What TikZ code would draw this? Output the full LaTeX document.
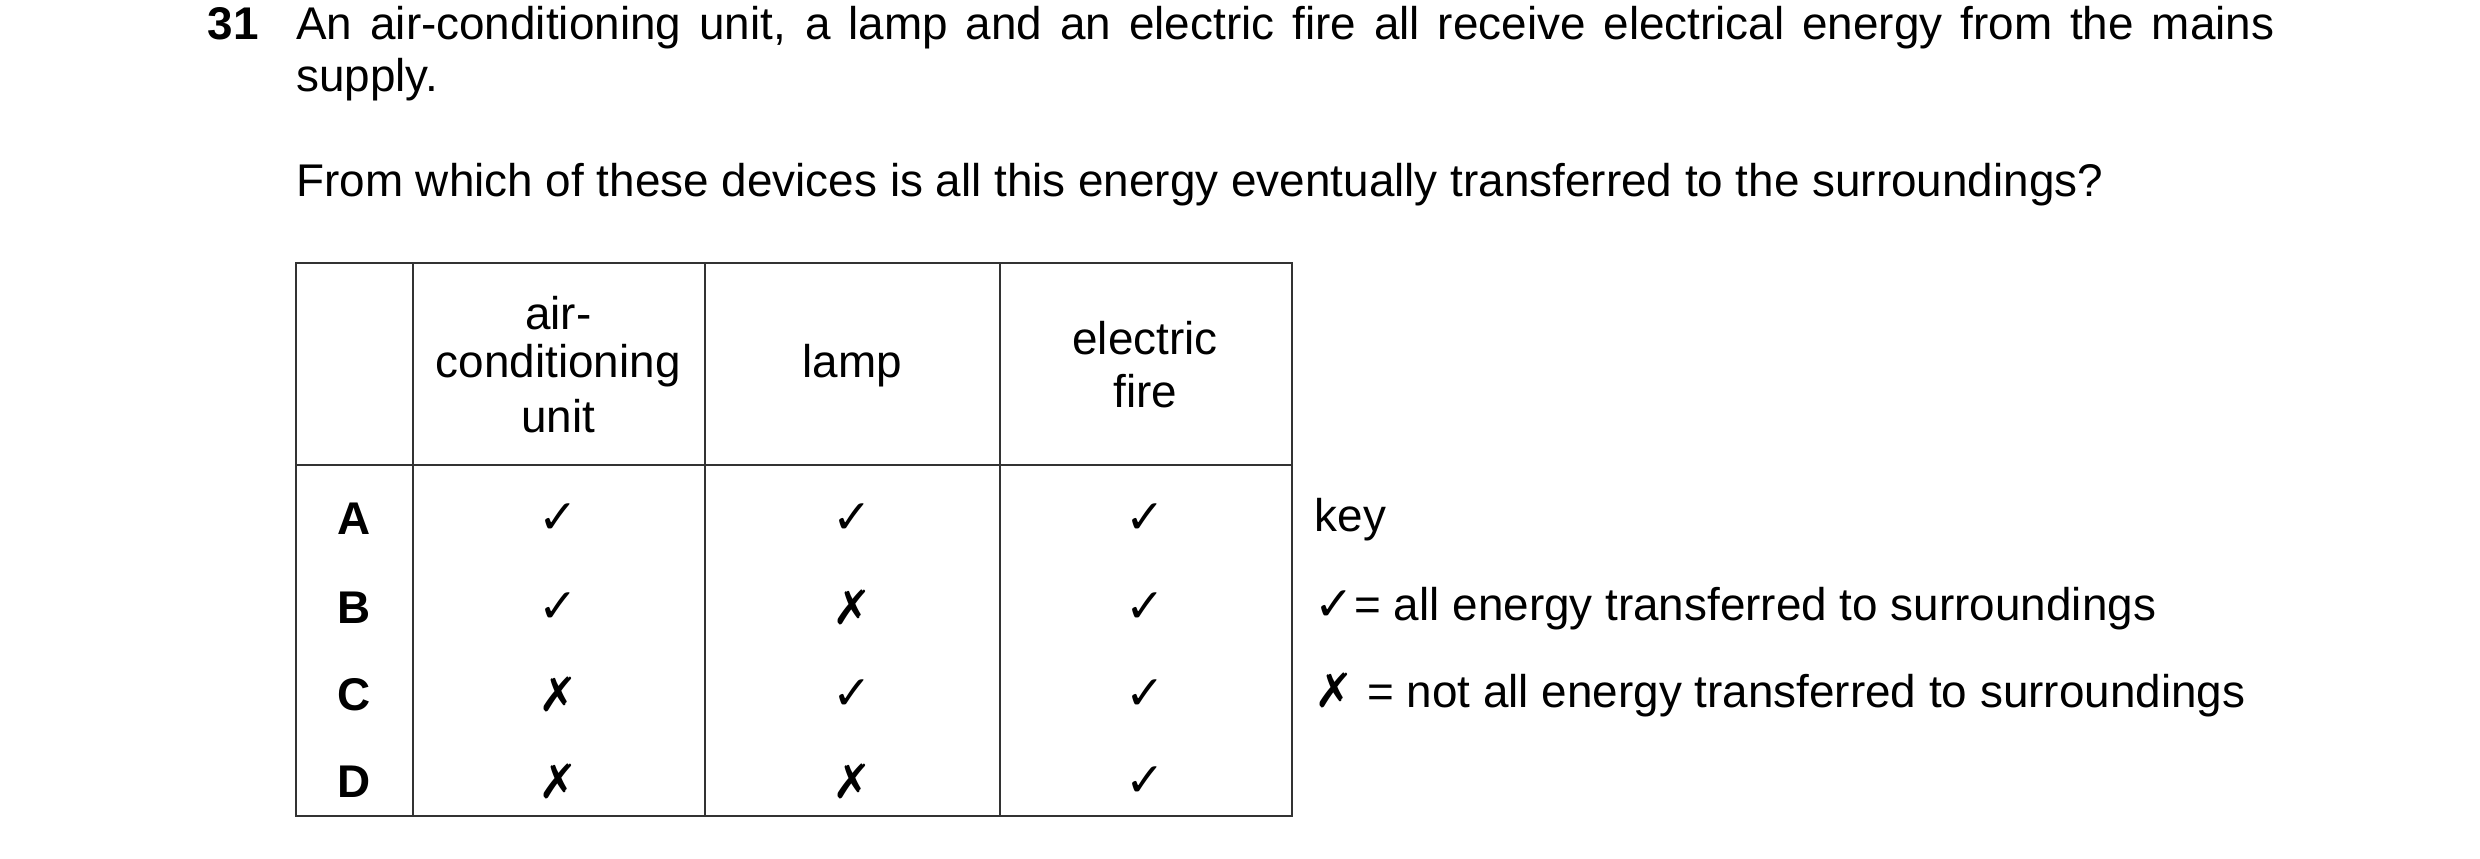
\documentclass[tikz,border=0pt]{standalone}
\usepackage{fontspec}
\setmainfont{Liberation Sans}
\newfontfamily\sym{DejaVu Sans}
\begin{document}
\begin{tikzpicture}[x=0.02cm,y=-0.02cm,
  txt/.style={inner sep=0pt,font=\fontsize{16.5}{20}\selectfont},
  lt/.style={txt,anchor=base west},
  mk/.style={inner sep=0pt,font=\sym\bfseries\fontsize{17}{20}\selectfont},
  rl/.style={txt,font=\fontsize{16.5}{20}\selectfont\bfseries}]
\useasboundingbox (0,0) rectangle (1568,542.5);
\node[lt,font=\fontsize{16.5}{20}\selectfont\bfseries] (num) at (131,25) {31};
\node[lt] (l1) at (187,25) {\makebox[25.02cm][s]{An air-conditioning unit, a lamp and an electric fire all receive electrical energy from the mains}};
\node[lt] (l2) at (187,58) {supply.};
\node[lt] (l3) at (187,124) {From which of these devices is all this energy eventually transferred to the surroundings?};
\draw[line width=0.7pt,black!80] (187,166) rectangle (817,516);
\foreach \x in {261,446,632} \draw[line width=0.7pt,black!80] (\x,166) -- (\x,516);
\draw[line width=0.7pt,black!80] (187,294) -- (817,294);
\node[txt] (h1a) at (353,198) {air-};
\node[txt] (h1b) at (353,231) {conditioning};
\node[txt] (h1c) at (353,263) {unit};
\node[txt] (h2) at (539,231) {lamp};
\node[txt] (h3a) at (724,214) {electric};
\node[txt] (h3b) at (724,247) {fire};
\node[rl] (rA) at (224,328) {A};
\node[rl] (rB) at (224,384) {B};
\node[rl] (rC) at (224,439) {C};
\node[rl] (rD) at (224,494) {D};
\node[mk] at (353,328) {✓}; \node[mk] at (539,328) {✓}; \node[mk] at (724,328) {✓};
\node[mk] at (353,384) {✓}; \node[mk] at (539,384) {✗}; \node[mk] at (724,384) {✓};
\node[mk] at (353,439) {✗}; \node[mk] at (539,439) {✓}; \node[mk] at (724,439) {✓};
\node[mk] at (353,494) {✗}; \node[mk] at (539,494) {✗}; \node[mk] at (724,494) {✓};
\node[lt] (k0) at (831,336) {key};
\node[lt] (k1) at (831,392) {{\sym\bfseries\fontsize{17}{20}\selectfont ✓}= all energy transferred to surroundings};
\node[lt] (k2) at (831,447) {{\sym\bfseries\fontsize{17}{20}\selectfont ✗} = not all energy transferred to surroundings};
\end{tikzpicture}
\end{document}
